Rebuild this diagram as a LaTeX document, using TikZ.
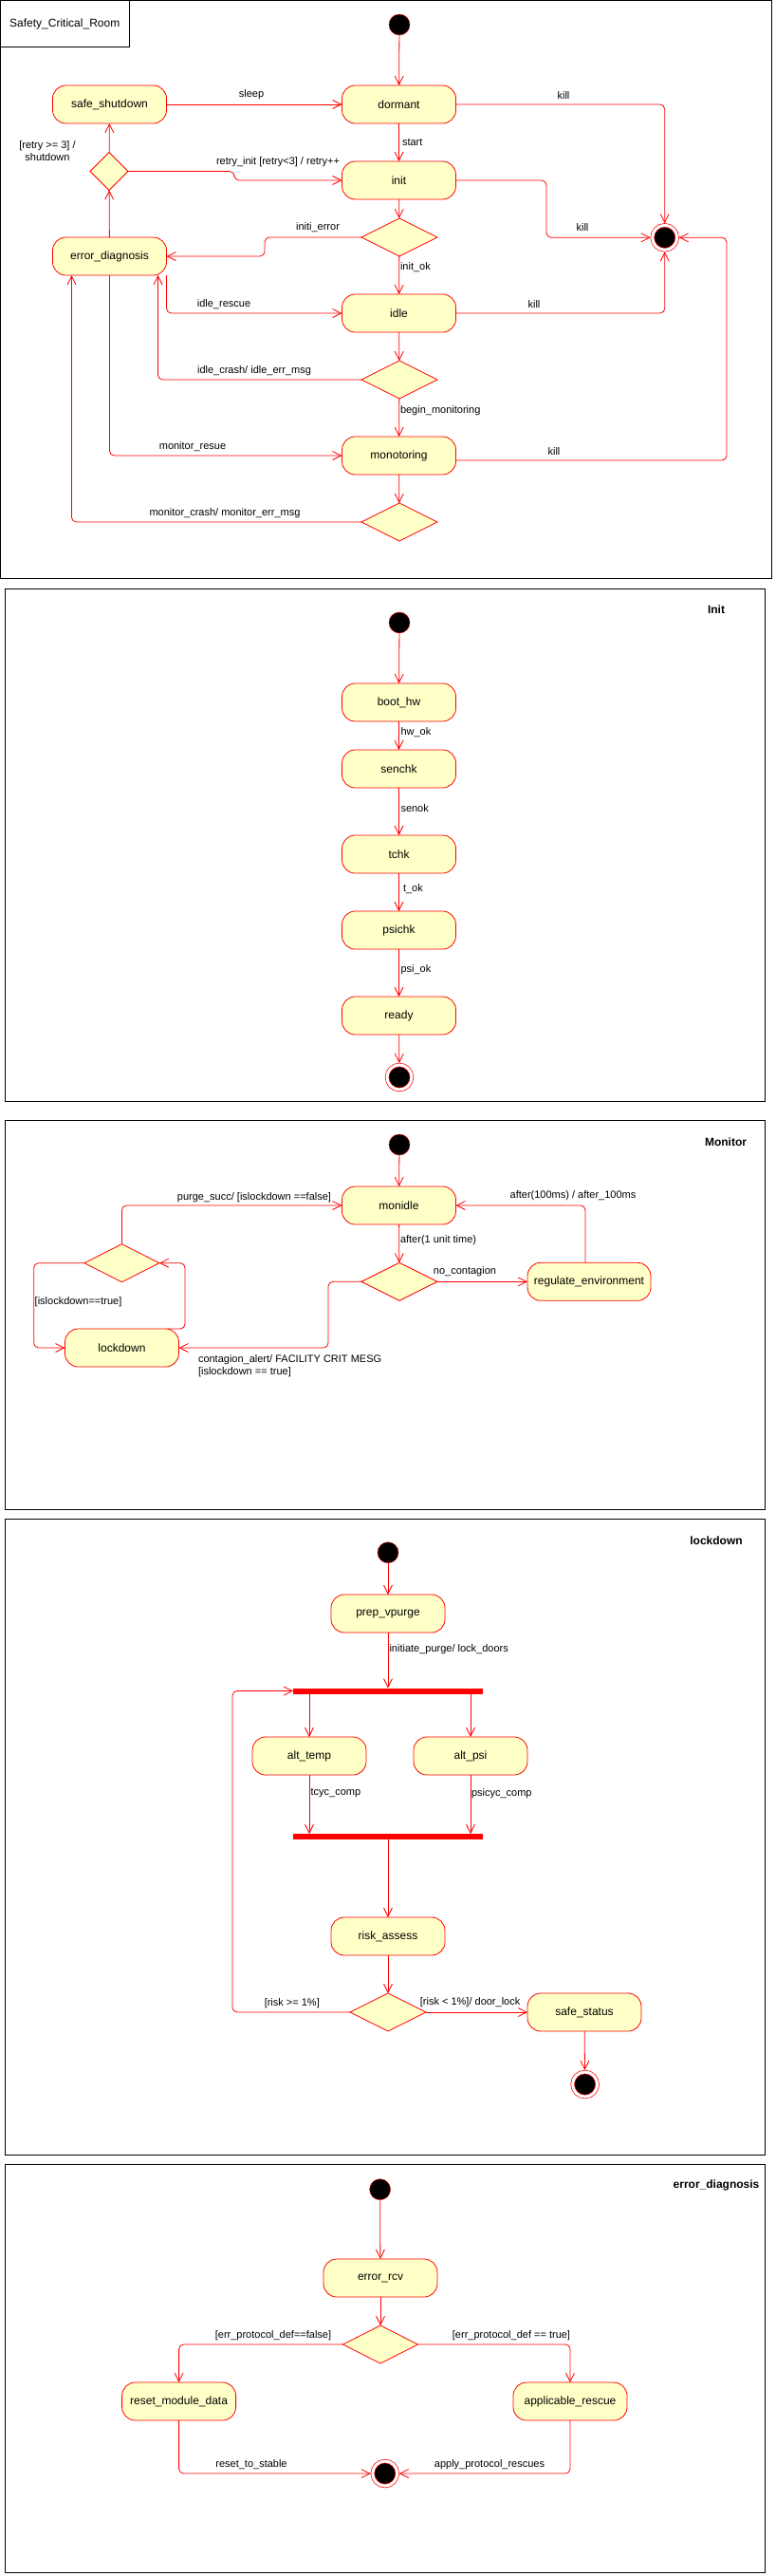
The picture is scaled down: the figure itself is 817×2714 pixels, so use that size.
\documentclass[tikz,border=0pt]{standalone}
\usepackage{fontspec}
\setmainfont{Liberation Sans}
\usetikzlibrary{shapes.geometric,arrows.meta}
\definecolor{stfill}{RGB}{255,255,200}
\begin{document}
\begin{tikzpicture}[x=1pt,y=-1pt,every node/.style={inner sep=0pt, outer sep=0pt},
state/.style={draw=red, line width=0.8pt, fill=stfill, rounded corners=14pt, minimum width=120pt, minimum height=40pt, font=\fontsize{12}{14}\selectfont},
choice/.style={diamond, draw=red, line width=0.8pt, fill=stfill, minimum width=80pt, minimum height=40pt},
initnode/.style={circle, draw=red, fill=black, minimum size=22pt},
endnode/.style={circle, draw=red, fill=black, minimum size=26pt, line width=0.7pt, double=white, double distance=3pt, outer sep=2pt},
bar/.style={fill=red, minimum width=200pt, minimum height=6pt},
lbl/.style={font=\fontsize{11}{13}\selectfont},
ttl/.style={font=\bfseries\fontsize{12}{14}\selectfont},
tr/.style={draw=red, line width=0.8pt, -{Straight Barb[length=9pt,width=9pt]}, rounded corners=5pt},
frame/.style={draw=black, line width=1pt}]
\useasboundingbox (0,0) rectangle (817,2714);
\draw[frame] (0.5,0.5) rectangle (813.5,609.5);
\draw[frame] (5.5,620.5) rectangle (806.5,1160);
\draw[frame] (5.5,1180.5) rectangle (806.5,1590);
\draw[frame] (5.5,1600.5) rectangle (806.5,2270);
\draw[frame] (5.5,2280.5) rectangle (806.5,2710);
\node[draw, line width=1pt, anchor=north west, minimum width=135.5pt, minimum height=49.5pt, font=\fontsize{12}{14}\selectfont] (RTitle) at (0.5,0.5) {Safety\_Critical\_Room};
\node[initnode] (RStart) at (421,26) {};
\node[state] (RSafe) at (115.5,110) {safe\_shutdown};
\node[state] (RDormant) at (420.5,110) {dormant};
\node[state] (RInit) at (420.5,190) {init};
\node[choice, minimum width=40pt] (RRetry) at (115,180.5) {};
\node[choice] (RChk1) at (421,250) {};
\node[state] (RErr) at (115.5,270) {error\_diagnosis};
\node[endnode] (RFinal) at (700.7,250.3) {};
\node[state] (RIdle) at (420.5,330) {idle};
\node[choice] (RChk2) at (421,400) {};
\node[state] (RMon) at (420.5,480) {monotoring};
\node[choice] (RChk3) at (421,550) {};
\node[lbl] (RLSleep) at (265,100) {sleep};
\node[lbl] (RLKill1) at (594,101) {kill};
\node[lbl, anchor=west] (RLStart) at (424,150) {start};
\node[lbl] (RLRetry) at (293,171) {retry\_init [retry<3] / retry++};
\node[lbl, align=center] (RLShut) at (50,159.5) {[retry >= 3] /\\{}shutdown};
\node[lbl] (RLKill2) at (614,240) {kill};
\node[lbl] (RLIniErr) at (335,240) {initi\_error};
\node[lbl, anchor=west] (RLInitOk) at (422,282) {init\_ok};
\node[lbl] (RLRescue) at (236,321) {idle\_rescue};
\node[lbl] (RLKill3) at (563,321) {kill};
\node[lbl] (RLCrash) at (268,391) {idle\_crash/ idle\_err\_msg};
\node[lbl, anchor=west] (RLBegin) at (422,433) {begin\_monitoring};
\node[lbl] (RLMonRes) at (203,471) {monitor\_resue};
\node[lbl] (RLKill4) at (584,476) {kill};
\node[lbl] (RLMonCr) at (237,541) {monitor\_crash/ monitor\_err\_msg};
\draw[tr] (RStart) -- (RDormant);
\draw[tr] (RSafe) -- (RDormant);
\draw[tr] (RDormant.east) -| (RFinal.north);
\draw[tr] (RDormant) -- (RInit);
\draw[tr] (RInit.east) -- (576,190) |- (RFinal.west);
\draw[tr] (RInit) -- (RChk1);
\draw[tr] (RChk1.west) -- (279,250) |- (RErr.east);
\draw[tr] (RChk1) -- (RIdle);
\draw[tr] (RErr) -- (RRetry);
\draw[tr] (RRetry) -- (RSafe);
\draw[tr] (RRetry.east) -- (247,180.5) |- (RInit.west);
\draw[tr] (RErr.south east) |- (RIdle.west);
\draw[tr] (RIdle.east) -| (RFinal.south);
\draw[tr] (RIdle) -- (RChk2);
\draw[tr] (RChk2.west) -| ([xshift=-9pt]RErr.south east);
\draw[tr] (RChk2) -- (RMon);
\draw[tr] (RErr.south) |- (RMon.west);
\draw[tr] ([yshift=-5pt]RMon.east) -- (766,485) |- (RFinal.east);
\draw[tr] (RMon) -- (RChk3);
\draw[tr] (RChk3.west) -| ([xshift=20pt]RErr.south west);
\node[ttl] (ITitle) at (755,642) {Init};
\node[initnode] (IStart) at (421,656) {};
\node[state] (IBoot) at (420.5,740) {boot\_hw};
\node[state] (ISen) at (420.5,810) {senchk};
\node[state] (ITchk) at (420.5,900) {tchk};
\node[state] (IPsi) at (420.5,980) {psichk};
\node[state] (IReady) at (420.5,1070) {ready};
\node[endnode] (IFinal) at (421,1135) {};
\node[lbl, anchor=west] (ILHw) at (422.5,772) {hw\_ok};
\node[lbl, anchor=west] (ILSen) at (422.5,852) {senok};
\node[lbl, anchor=west] (ILT) at (425,937) {t\_ok};
\node[lbl, anchor=west] (ILPsi) at (422.5,1022) {psi\_ok};
\draw[tr] (IStart) -- (IBoot);
\draw[tr] (IBoot) -- (ISen);
\draw[tr] (ISen) -- (ITchk);
\draw[tr] (ITchk) -- (IPsi);
\draw[tr] (IPsi) -- (IReady);
\draw[tr] (IReady) -- (IFinal);
\node[ttl] (MTitle) at (765,1203) {Monitor};
\node[initnode] (MStart) at (421,1206) {};
\node[state] (MIdle) at (420.5,1270) {monidle};
\node[choice] (MChk) at (421,1350.3) {};
\node[state, minimum width=130pt] (MReg) at (621,1350.3) {regulate\_environment};
\node[choice, minimum width=79pt] (MChk2) at (128.4,1330.7) {};
\node[state] (MLock) at (128.5,1420) {lockdown};
\node[lbl, anchor=west] (MLAfter) at (422,1307) {after(1 unit time)};
\node[lbl] (MLNoCon) at (490,1340) {no\_contagion};
\node[lbl] (MLAfter100) at (604,1260) {after(100ms) / after\_100ms};
\node[lbl] (MLPurge) at (268,1262) {purge\_succ/ [islockdown ==false]};
\node[lbl, anchor=west] (MLTrue) at (36.7,1372) {[islockdown==true]};
\node[lbl, anchor=west, align=left] (MLAlert) at (209,1438.8) {contagion\_alert/ FACILITY CRIT MESG\\{}[islockdown == true]};
\draw[tr] (MStart) -- (MIdle);
\draw[tr] (MIdle) -- (MChk);
\draw[tr] (MChk) -- (MReg);
\draw[tr] ([xshift=-4pt]MReg.north) |- (MIdle.east);
\draw[tr] (MChk.west) -- (346,1350.3) |- (MLock.east);
\draw[tr] (MChk2.north) |- (MIdle.west);
\draw[tr] (MChk2.west) -- (35.7,1330.7) |- (MLock.west);
\draw[tr] ([xshift=-12pt]MLock.north east) -- (195,1400) |- (MChk2.east);
\node[ttl] (LTitle) at (755,1622.7) {lockdown};
\node[initnode] (LStart) at (409,1635.7) {};
\node[state] (LPrep) at (409,1700) {prep\_vpurge};
\node[bar] (LFork) at (409,1781.5) {};
\node[state] (LTemp) at (326,1850) {alt\_temp};
\node[state] (LPsi) at (496,1850) {alt\_psi};
\node[bar] (LJoin) at (409,1935) {};
\node[state] (LRisk) at (409,2040) {risk\_assess};
\node[choice] (LChk) at (409,2120) {};
\node[state] (LSafe) at (616,2120) {safe\_status};
\node[endnode] (LFinal) at (616.6,2196) {};
\node[lbl, anchor=west] (LLInit) at (410.5,1738) {initiate\_purge/ lock\_doors};
\node[lbl, anchor=west] (LLTcyc) at (327.6,1889) {tcyc\_comp};
\node[lbl, anchor=west] (LLPsicyc) at (497,1890) {psicyc\_comp};
\node[lbl] (LLLow) at (495.6,2110) {[risk < 1\%]/ door\_lock};
\node[lbl] (LLHigh) at (307.8,2110.7) {[risk >= 1\%]};
\draw[tr] (LStart) -- (LPrep);
\draw[tr] (LPrep) -- (LFork);
\draw[tr] (LFork.south -| LTemp.north) -- (LTemp.north);
\draw[tr] (LFork.south -| LPsi.north) -- (LPsi.north);
\draw[tr] (LTemp.south) -- (LTemp.south |- LJoin.north);
\draw[tr] (LPsi.south) -- (LPsi.south |- LJoin.north);
\draw[tr] (LJoin) -- (LRisk);
\draw[tr] (LRisk) -- (LChk);
\draw[tr] (LChk) -- (LSafe);
\draw[tr] (LChk.west) -- (245,2120) |- (LFork.west);
\draw[tr] (LSafe) -- (LFinal);
\node[ttl] (ETitle) at (755,2302.5) {error\_diagnosis};
\node[initnode] (EStart) at (400.6,2306.7) {};
\node[state] (ERcv) at (401,2400) {error\_rcv};
\node[choice, minimum width=79pt] (EChk) at (401,2470) {};
\node[state] (EReset) at (188.6,2530) {reset\_module\_data};
\node[state] (EApply) at (601,2530) {applicable\_rescue};
\node[endnode] (EFinal) at (405.8,2606) {};
\node[lbl] (ELFalse) at (288,2460.7) {[err\_protocol\_def==false]};
\node[lbl] (ELTrue) at (539,2460.7) {[err\_protocol\_def == true]};
\node[lbl] (ELStable) at (265,2596.3) {reset\_to\_stable};
\node[lbl] (ELApply) at (516,2596.3) {apply\_protocol\_rescues};
\draw[tr] (EStart) -- (ERcv);
\draw[tr] (ERcv) -- (EChk);
\draw[tr] (EChk.west) -| (EReset.north);
\draw[tr] (EChk.east) -| (EApply.north);
\draw[tr] (EReset.south) |- (EFinal.west);
\draw[tr] (EApply.south) |- (EFinal.east);
\end{tikzpicture}
\end{document}
